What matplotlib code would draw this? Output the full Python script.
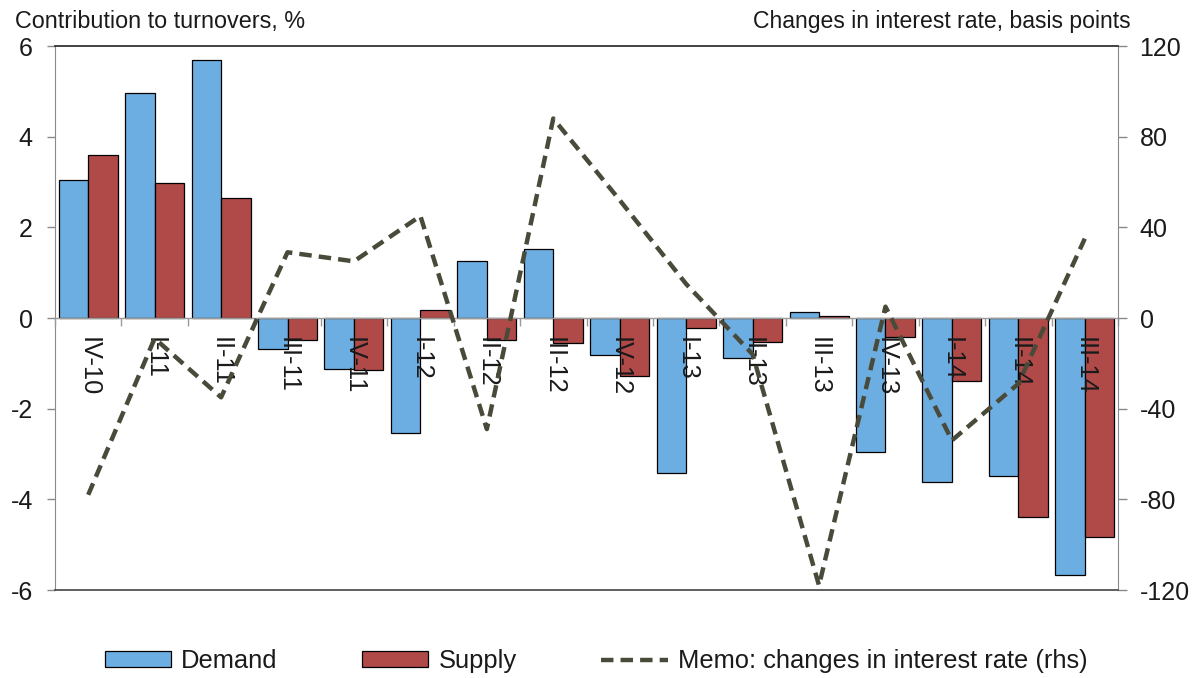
import matplotlib
matplotlib.use("Agg")
import matplotlib.pyplot as plt
import numpy as np

plt.rcParams['font.family'] = ['Liberation Sans', 'DejaVu Sans']

quarters = ["IV-10", "I-11", "II-11", "III-11", "IV-11", "I-12", "II-12", "III-12",
            "IV-12", "I-13", "II-13", "III-13", "IV-13", "I-14", "II-14", "III-14"]
demand = [3.04, 4.97, 5.69, -0.69, -1.13, -2.54, 1.26, 1.52,
          -0.82, -3.43, -0.89, 0.14, -2.95, -3.61, -3.49, -5.67]
supply = [3.60, 2.98, 2.64, -0.49, -1.15, 0.18, -0.49, -0.56,
          -1.28, -0.21, -0.54, 0.04, -0.41, -1.40, -4.40, -4.84]
rate_change = [-78, -9, -35, 29, 25, 45, -49, 88,
               52, 15, -16, -118, 5, -54, -29, 35]

left_ticks = [-6, -4, -2, 0, 2, 4, 6]
right_ticks = [-120, -80, -40, 0, 40, 80, 120]

c_demand = "#6DAEE2"
c_supply = "#B04A48"
c_line = "#4A4A3A"
c_text = "#1a1a1a"

fig = plt.figure(figsize=(12.03, 6.78), dpi=100)
ax = fig.add_axes([55 / 1203, 88 / 678, (1118 - 55) / 1203, (590 - 46) / 678])

x = np.arange(len(quarters))
w = 0.444
ax.bar(x - w / 2, demand, width=w, color=c_demand, edgecolor="black",
       linewidth=0.9, label="Demand", zorder=1)
ax.bar(x + w / 2, supply, width=w, color=c_supply, edgecolor="black",
       linewidth=0.9, label="Supply", zorder=1)

ax.set_xlim(-0.5, len(quarters) - 0.5)
ax.set_ylim(-6, 6)
ax.set_yticks(left_ticks)
ax.set_yticklabels([str(t) for t in left_ticks])

# category axis sits on the zero line, drawn above the bars
ax.spines['bottom'].set_position(('data', 0))
ax.spines['bottom'].set_color("#9a9a9a")
ax.spines['bottom'].set_linewidth(1.0)
ax.spines['bottom'].set_zorder(3)
ax.spines['left'].set_color("#8a8a8a")
ax.spines['right'].set_visible(False)
ax.spines['top'].set_visible(False)
ax.xaxis.set_zorder(3)

ax.set_xticks(np.arange(len(quarters) + 1) - 0.5)
ax.set_xticklabels([])
ax.set_xticks(x, quarters, minor=True)
ax.tick_params(axis='x', which='major', direction='out', length=5.5,
               color="#9a9a9a", width=1.0)
ax.tick_params(axis='x', which='minor', length=0, pad=13.5,
               labelsize=18.3, labelrotation=270, labelcolor=c_text)
ax.tick_params(axis='y', direction='out', length=6, color="#8a8a8a",
               width=1.0, pad=10, labelsize=18, labelcolor=c_text)

ax2 = ax.twinx()
ax2.plot(x, rate_change, color=c_line, linewidth=3.2, dashes=(2.8, 1.6),
         label="Memo: changes in interest rate (rhs)", zorder=4)
ax2.set_ylim(-120, 120)
ax2.set_yticks(right_ticks)
ax2.set_yticklabels([str(t) for t in right_ticks])
ax2.spines['left'].set_visible(False)
ax2.spines['right'].set_color("#8a8a8a")
ax2.spines['top'].set_color("#222222")
ax2.spines['top'].set_linewidth(1.2)
ax2.spines['bottom'].set_color("#444444")
ax2.spines['bottom'].set_linewidth(1.2)
ax2.tick_params(axis='y', direction='out', length=6.5, color="#8a8a8a",
                width=1.0, pad=9, labelsize=18, labelcolor=c_text)
ax2.tick_params(axis='x', bottom=False, labelbottom=False)

fig.text(15 / 1203, 1 - 28 / 678, "Contribution to turnovers, %",
         fontsize=16.8, color=c_text, ha="left", va="baseline")
fig.text(1131 / 1203, 1 - 28 / 678, "Changes in interest rate, basis points",
         fontsize=16.6, color=c_text, ha="right", va="baseline")

h1, l1 = ax.get_legend_handles_labels()
h2, l2 = ax2.get_legend_handles_labels()
fig.legend(h1 + h2, l1 + l2, loc="center", bbox_to_anchor=(596 / 1203, 1 - 661 / 678),
           ncol=3, frameon=False, fontsize=18.4, handlelength=2.6,
           handleheight=0.55, handletextpad=0.4, columnspacing=3.3,
           labelcolor=c_text)

fig.savefig("out.png", dpi=100)
